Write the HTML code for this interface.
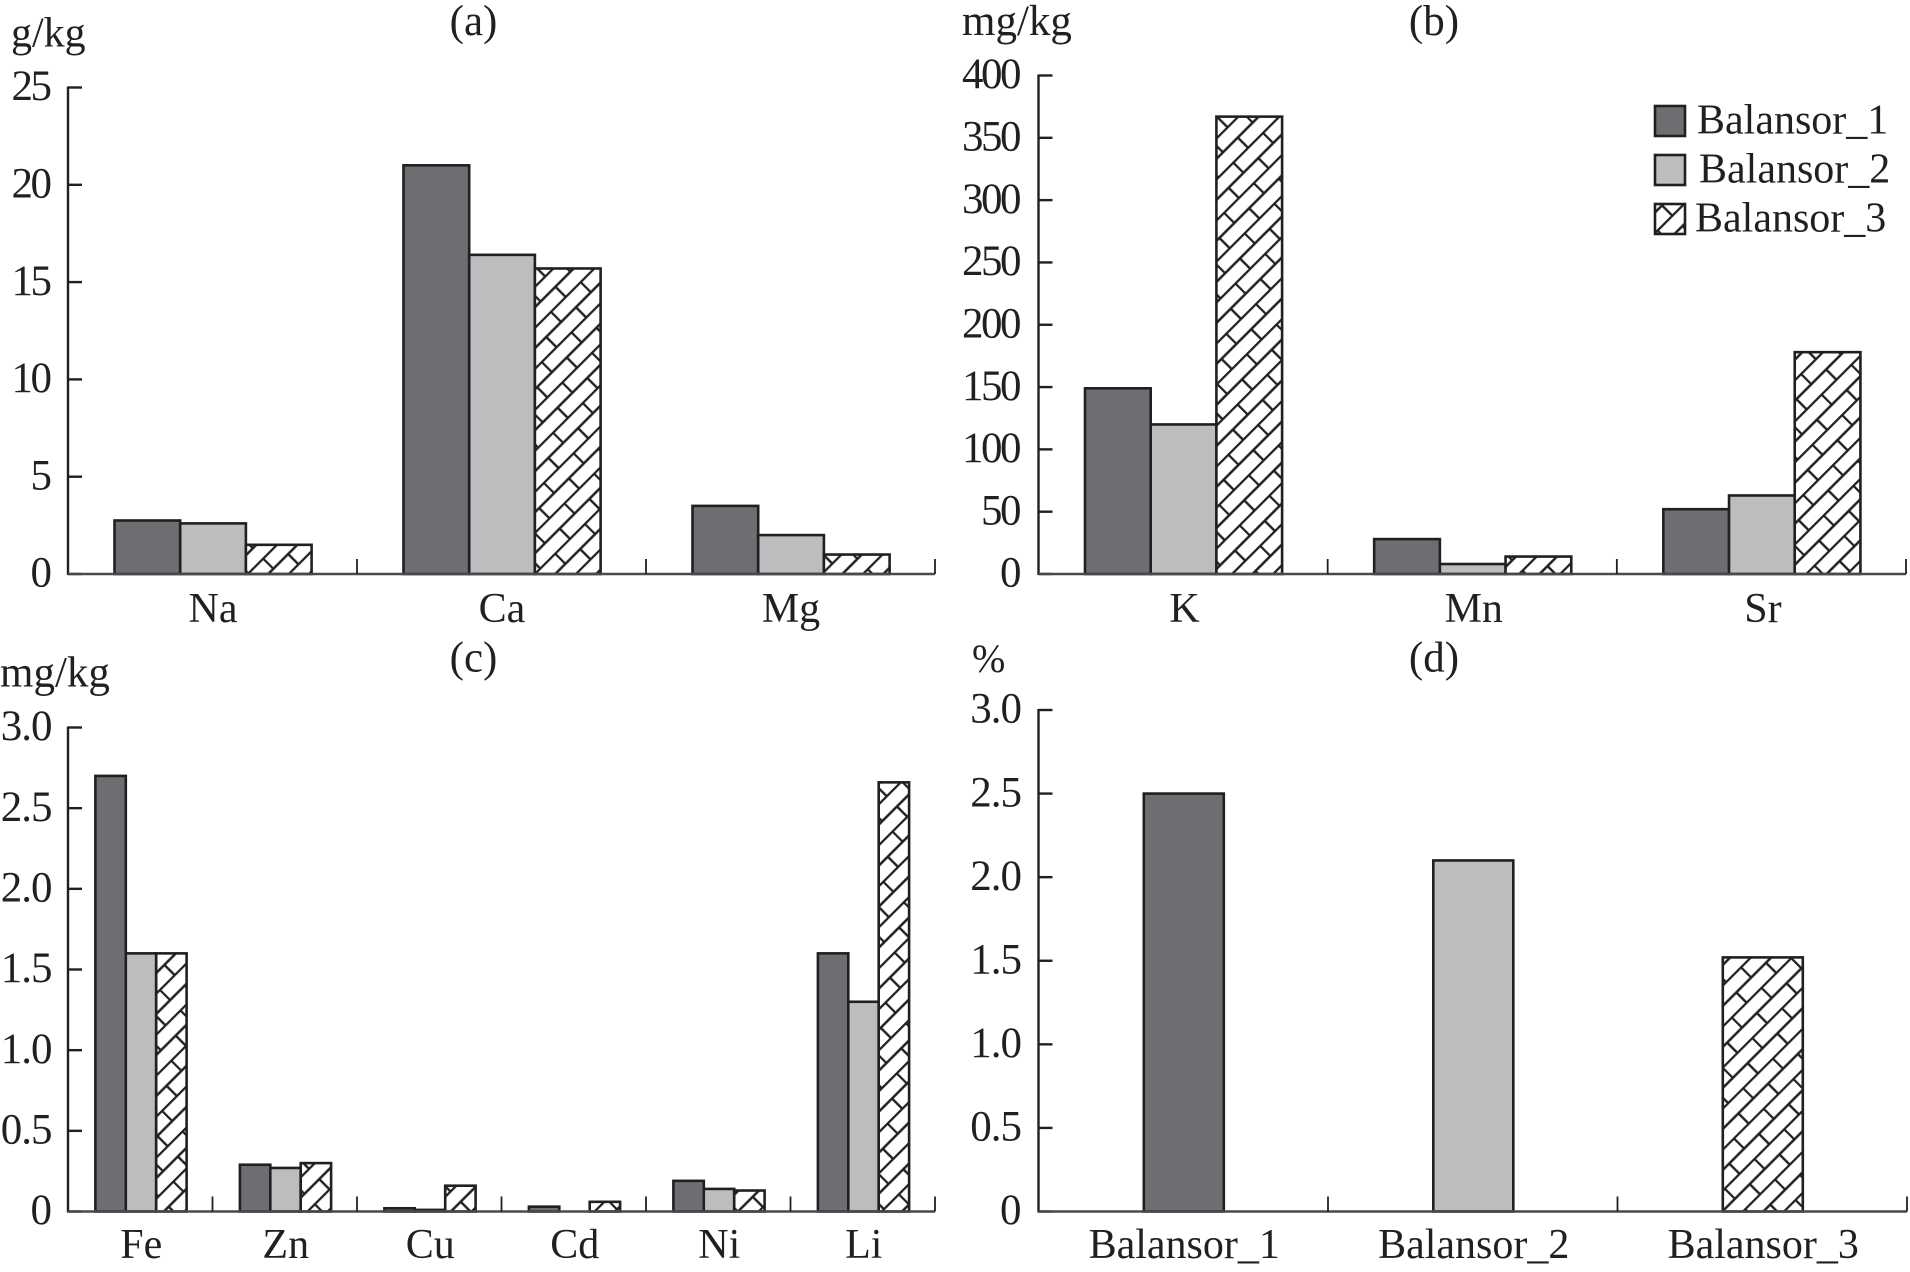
<!DOCTYPE html>
<html lang="en">
<head>
<meta charset="utf-8">
<title>Mineral content of Balansor samples</title>
<style>
html,body{margin:0;padding:0;background:#fff;}
svg{display:block;}
text{font-family:"Liberation Serif",serif;font-size:42px;fill:#231f20;}
text.tick{font-size:43px;letter-spacing:-2.5px;}
text.tick-decimal{font-size:43px;letter-spacing:-1px;}
text.title{font-size:43px;}
</style>
</head>
<body>
<svg id="figure" xmlns="http://www.w3.org/2000/svg" width="1910" height="1272" viewBox="0 0 1910 1272">
<defs>
<pattern id="brick" patternUnits="userSpaceOnUse" width="42" height="29" patternTransform="rotate(-45)">
<rect width="42" height="29" fill="#fff"/>
<path d="M0 1H42M0 15.5H42M1 1V15.5M22 15.5V29" stroke="#231f20" stroke-width="2.4" fill="none"/>
</pattern>
</defs>
</svg>
<script>
var seriesNames = ["Balansor_1", "Balansor_2", "Balansor_3"];

var categoriesA = ["Na", "Ca", "Mg"];
var balansor1A = [2.75, 21, 3.5];
var balansor2A = [2.6, 16.4, 2.0];
var balansor3A = [1.5, 15.7, 1.0];
var tickLabelsA = ["0", "5", "10", "15", "20", "25"];

var categoriesB = ["K", "Mn", "Sr"];
var balansor1B = [149, 28, 52];
var balansor2B = [120, 8, 63];
var balansor3B = [367, 14, 178];
var tickLabelsB = ["0", "50", "100", "150", "200", "250", "300", "350", "400"];

var categoriesC = ["Fe", "Zn", "Cu", "Cd", "Ni", "Li"];
var balansor1C = [2.7, 0.29, 0.02, 0.03, 0.19, 1.6];
var balansor2C = [1.6, 0.27, 0.01, 0, 0.14, 1.3];
var balansor3C = [1.6, 0.30, 0.16, 0.06, 0.13, 2.66];
var tickLabelsC = ["0", "0.5", "1.0", "1.5", "2.0", "2.5", "3.0"];

var categoriesD = ["Balansor_1", "Balansor_2", "Balansor_3"];
var valuesD = [2.5, 2.1, 1.52];
var tickLabelsD = ["0", "0.5", "1.0", "1.5", "2.0", "2.5", "3.0"];

var fills = ["#6d6e71", "#bcbdbf", "url(#brick)"];
var ink = "#231f20";
var svg = document.getElementById("figure");
var NS = "http://www.w3.org/2000/svg";

function make(tag, parent, name, attrs) {
  var el = document.createElementNS(NS, tag);
  
  
  for (var k in attrs) { el.setAttribute(k, attrs[k]); }
  parent.appendChild(el);
  return el;
}

function label(parent, name, str, x, y, anchor, cls, size) {
  var t = make("text", parent, name, { x: x, y: y, "text-anchor": anchor || "start" });
  if (cls) { t.setAttribute("class", cls); }
  if (size) { t.style.fontSize = size + "px"; }
  t.textContent = str;
  return t;
}

function drawPanel(p) {
  var g = make("g", svg, p.id, {});
  var xLeft = p.x0;
  var n = p.categories.length;
  var step = (p.x1 - p.x0) / n;
  var maxTick = parseFloat(p.ticks[p.ticks.length - 1]);
  function yScale(v) { return p.y0 - (v / maxTick) * (p.y0 - p.yTop); }
  function xBand(i) { return xLeft + i * step; }

  // bars
  p.categories.forEach(function (cat, i) {
    var groupStart = xBand(i) + p.margin;
    p.series.forEach(function (vals, s) {
      var v = vals[i];
      if (v <= 0) { return; }
      var x = groupStart + s * p.barWidth;
      var fill = p.single ? fills[i] : fills[s];
      var y = yScale(v);
      make("rect", g, "bar-" + cat.toLowerCase() + "-" + (p.single ? "value" : seriesNames[s].toLowerCase()), {
        x: x, y: y, width: p.barWidth, height: p.y0 - y,
        fill: fill, stroke: ink, "stroke-width": 2.6
      });
    });
    label(g, "x-label-" + cat.toLowerCase(), cat, xBand(i) + step / 2 + p.labelShift, p.labelY, "middle");
  });

  // y axis
  make("line", g, "y-axis", { x1: xLeft, x2: xLeft, y1: p.yTop - 1, y2: p.y0 + 1, stroke: ink, "stroke-width": 2.4 });
  p.ticks.forEach(function (t) {
    var y = yScale(parseFloat(t));
    var isDecimal = t.indexOf(".") >= 0;
    make("line", g, "y-tick-" + t, { x1: xLeft, x2: xLeft + 14, y1: y, y2: y, stroke: ink, "stroke-width": 2.4 });
    label(g, "y-label-" + t, t, p.tickRight + (isDecimal ? 2 : 0), y + 12.7, "end", isDecimal ? "tick-decimal" : "tick");
  });

  // x axis
  make("line", g, "x-axis", { x1: xLeft, x2: p.x1, y1: p.y0, y2: p.y0, stroke: "#4a4a4c", "stroke-width": 2.4 });
  for (var i = 1; i <= n; i++) {
    make("line", g, "x-tick-" + i, { x1: xBand(i), x2: xBand(i), y1: p.y0, y2: p.y0 - 15, stroke: ink, "stroke-width": 1.8 });
  }

  label(g, "panel-title", p.title, p.titleX, p.titleY, "middle", "title");
  label(g, "y-axis-unit", p.unit, p.unitX, p.unitY, "start", null, p.unitSize);
}

drawPanel({
  id: "panel-a", title: "(a)", titleX: 473.5, titleY: 35, unit: "g/kg", unitX: 11, unitY: 46.5, unitSize: 42,
  categories: categoriesA, series: [balansor1A, balansor2A, balansor3A], ticks: tickLabelsA,
  x0: 68, x1: 935, y0: 574, yTop: 87.5, margin: 46.5, barWidth: 65.7, tickRight: 49.5, labelY: 622, labelShift: 0.5
});
drawPanel({
  id: "panel-b", title: "(b)", titleX: 1434, titleY: 35, unit: "mg/kg", unitX: 962, unitY: 35, unitSize: 43,
  categories: categoriesB, series: [balansor1B, balansor2B, balansor3B], ticks: tickLabelsB,
  x0: 1038.5, x1: 1906, y0: 574, yTop: 75.5, margin: 46.5, barWidth: 65.7, tickRight: 1019, labelY: 622, labelShift: 1.5
});
drawPanel({
  id: "panel-c", title: "(c)", titleX: 473.5, titleY: 671.5, unit: "mg/kg", unitX: 0, unitY: 686.5, unitSize: 43,
  categories: categoriesC, series: [balansor1C, balansor2C, balansor3C], ticks: tickLabelsC,
  x0: 68, x1: 935, y0: 1211.5, yTop: 727.5, margin: 27.4, barWidth: 30.4, tickRight: 49.5, labelY: 1258, labelShift: 1
});
drawPanel({
  id: "panel-d", title: "(d)", titleX: 1434, titleY: 671.5, unit: "%", unitX: 972, unitY: 672, unitSize: 40,
  categories: categoriesD, series: [valuesD], ticks: tickLabelsD, single: true,
  x0: 1038.5, x1: 1907, y0: 1211.5, yTop: 710, margin: 105.3, barWidth: 80, tickRight: 1019, labelY: 1258, labelShift: 1
});

// legend
var legend = document.createElementNS(NS, "g");


svg.appendChild(legend);
var legendRowY = [106, 155, 204];
var legendTextX = [1697, 1699, 1695];
seriesNames.forEach(function (name, i) {
  make("rect", legend, "legend-swatch-" + name.toLowerCase(), {
    x: 1655, y: legendRowY[i], width: 30, height: 30, fill: fills[i], stroke: ink, "stroke-width": 2.6
  });
  label(legend, "legend-entry-" + name.toLowerCase(), name, legendTextX[i], legendRowY[i] + 27.5);
});
</script>
</body>
</html>
